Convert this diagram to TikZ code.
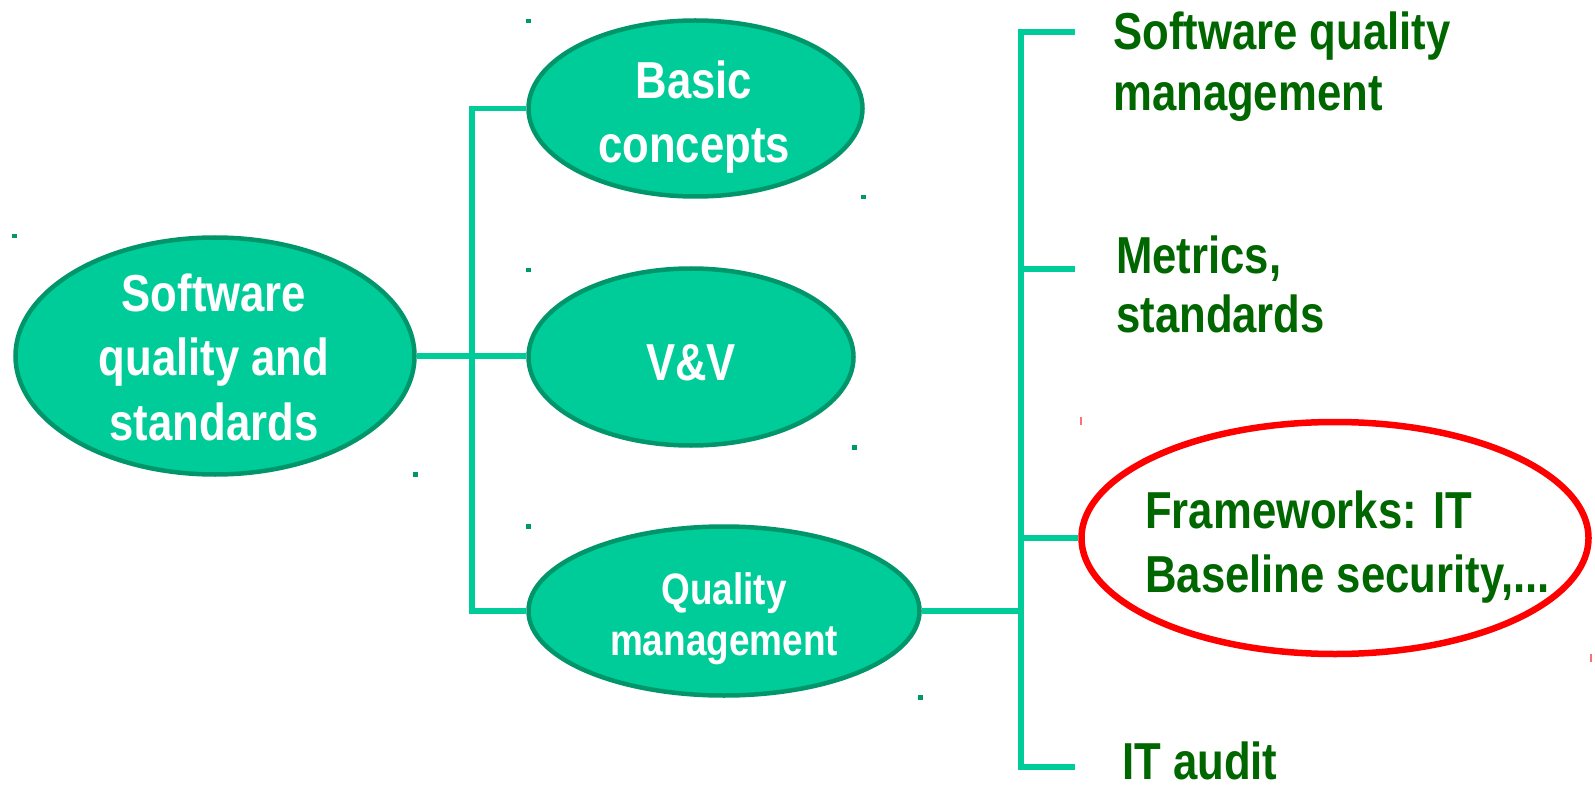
\documentclass[tikz,border=0pt]{standalone}
\usepackage{fontspec}
\setmainfont{Liberation Sans}[FakeStretch=0.84]
\usetikzlibrary{shapes.geometric,backgrounds}
\definecolor{ovalfill}{HTML}{00CC99}
\definecolor{ovaldraw}{HTML}{00966A}
\definecolor{conncol}{HTML}{00CC99}
\definecolor{txtgreen}{HTML}{006600}
\definecolor{dotcol}{HTML}{009966}
\definecolor{tickred}{HTML}{FF7070}
\tikzset{
  oval/.style={ellipse, fill=ovalfill, draw=ovaldraw, line width=4.5pt, inner sep=0pt},
  redoval/.style={ellipse, draw=red, line width=6.5pt, fill=white, inner sep=0pt},
  conn/.style={draw=conncol, line width=5.5pt, line join=miter},
  intext/.style={text=white, inner sep=0pt, anchor=base, font=\bfseries\fontsize{52}{64}\selectfont},
  qmtext/.style={text=white, inner sep=0pt, anchor=base, font=\bfseries\fontsize{44}{51}\selectfont},
  outtext/.style={text=txtgreen, inner sep=0pt, anchor=base west, font=\bfseries\fontsize{52}{61}\selectfont},
  handle/.style={fill=dotcol},
}
\newcommand{\mlines}[1]{\begin{tabular}[t]{@{}c@{}}#1\end{tabular}}
\newcommand{\llines}[1]{\begin{tabular}[t]{@{}l@{}}#1\end{tabular}}
\begin{document}
\begin{tikzpicture}[x=1pt,y=-1pt]
\useasboundingbox (0,0) rectangle (1595,786);
% ellipses
\node[oval, minimum width=399pt, minimum height=237pt] (e1) at (215,356) {};
\node[oval, minimum width=334pt, minimum height=176pt] (basic) at (695.5,108.5) {};
\node[oval, minimum width=325pt, minimum height=177pt] (vv) at (691,357) {};
\node[oval, minimum width=391pt, minimum height=169pt] (qm) at (724,611) {};
\node[redoval, minimum width=507pt, minimum height=232pt] (fw) at (1335,538) {};
% texts inside ellipses
\node[intext] (t1) at (214,312) {\mlines{Software\\quality and\\standards}};
\node[intext] (t2) at (694,99) {\mlines{Basic\\concepts}};
\node[intext] (t3) at (691,380) {V\&V};
\node[qmtext] (t4) at (724,604) {\mlines{Quality\\management}};
% right texts
\node[outtext] (r1) at (1113,50) {\llines{Software quality\\management}};
\node[outtext, font=\bfseries\fontsize{52}{59}\selectfont] (r2) at (1116,273) {\llines{Metrics,\\standards}};
\node[outtext, font=\bfseries\fontsize{52}{64}\selectfont] (r3) at (1145,528) {\llines{Frameworks: IT\\Baseline security,...}};
\node[outtext] (r4) at (1122,779) {IT audit};
% connector coordinates
\coordinate (j1) at (472,356);
\coordinate (j2) at (1021,611);
\coordinate (b1) at (1075,32);
\coordinate (b2) at (1075,269);
\coordinate (b4) at (1075,767);
\begin{pgfonlayer}{background}
\draw[conn] (e1.east) -- (e1.east -| vv.west);
\draw[conn] (basic.west) -- (basic.west -| j1) -- (qm.west -| j1) -- (qm.west);
\draw[conn] (qm.east) -- (qm.east -| j2);
\draw[conn] (b1) -- (b1 -| j2) -- (b4 -| j2) -- (b4);
\draw[conn] (b2) -- (b2 -| j2);
\draw[conn] (fw.west) -- (fw.west -| j2);
\end{pgfonlayer}
% selection handles
\fill[handle] (12,234) rectangle ++(4.5,4.5);
\fill[handle] (413,472) rectangle ++(4.5,4.5);
\fill[handle] (526,19) rectangle ++(4.5,4.5);
\fill[handle] (861,195) rectangle ++(4.5,4.5);
\fill[handle] (526,268) rectangle ++(4.5,4.5);
\fill[handle] (852,445) rectangle ++(4.5,4.5);
\fill[handle] (526,524) rectangle ++(4.5,4.5);
\fill[handle] (918,695) rectangle ++(4.5,4.5);
\draw[tickred, line width=1.4pt] (1081,417) -- (1081,425);
\draw[tickred, line width=1.4pt] (1591,654) -- (1591,662);
\end{tikzpicture}
\end{document}
